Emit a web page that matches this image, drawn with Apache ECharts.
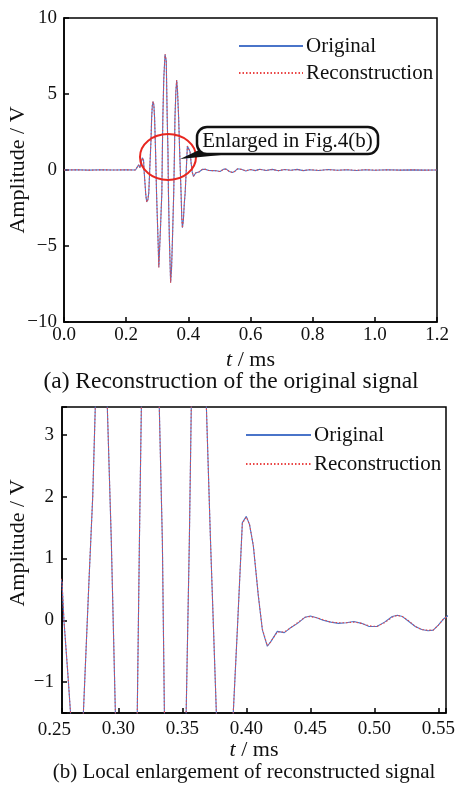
<!DOCTYPE html>
<html>
<head>
<meta charset="utf-8">
<title>Reconstruction of the original signal</title>
<script src="https://cdn.jsdelivr.net/npm/echarts@6/dist/echarts.min.js"></script>
<style>
  html, body { margin: 0; padding: 0; background: #fff; }
  #chart { width: 461px; height: 787px; }
</style>
</head>
<body>
<div id="chart"></div>
<script>
  // time axis (ms) shared by both traces
  const timeMs = [
    0.000, 0.040, 0.080, 0.120, 0.160, 0.200, 0.230,
    0.236, 0.240, 0.244, 0.248, 0.252, 0.256,
    0.2575, 0.2605, 0.263, 0.266, 0.268, 0.270, 0.2727,
    0.277, 0.280, 0.282, 0.284, 0.2865, 0.289, 0.2914,
    0.2945, 0.2977, 0.300, 0.303, 0.305, 0.307, 0.311,
    0.3148, 0.3165, 0.318, 0.321, 0.325, 0.329, 0.332,
    0.3344, 0.336, 0.339, 0.343, 0.346, 0.349, 0.353,
    0.3555, 0.357, 0.360, 0.3625, 0.365, 0.3688, 0.372,
    0.3766, 0.379, 0.381, 0.384, 0.387, 0.3898, 0.393,
    0.3969, 0.400, 0.4025, 0.4055, 0.4094, 0.4125, 0.4164,
    0.419, 0.4242, 0.4297, 0.434, 0.440, 0.446, 0.450,
    0.455, 0.460, 0.466, 0.472, 0.478, 0.484, 0.490,
    0.496, 0.502, 0.508, 0.514, 0.518, 0.522, 0.527,
    0.532, 0.537, 0.542, 0.546, 0.550, 0.554, 0.558,
    0.570, 0.585, 0.600, 0.615, 0.630, 0.650, 0.670,
    0.690, 0.710, 0.730, 0.750, 0.770, 0.790, 0.820,
    0.850, 0.880, 0.910, 0.940, 0.970, 1.000, 1.040,
    1.080, 1.120, 1.160, 1.200
  ];

  const originalV = [
    0, 0.02, -0.01, 0.02, 0, 0.01, 0,
    0.05, 0.35, 0.15, 0.45, 0.8, 0.62,
    0, -0.85, -1.6, -2.1, -2.2, -1.95, -1.5,
    0.6, 2.0, 3.45, 4.2, 4.5, 4.3, 3.45,
    1.3, -1.5, -3.0, -4.9, -6.4, -5.5, -3.5,
    -1.5, 1.3, 3.45, 6.0, 7.6, 7.2, 3.45,
    1.3, -1.5, -4.5, -7.4, -6.5, -4.5, -1.5,
    1.3, 3.45, 5.2, 5.9, 5.3, 3.45, 1.3,
    -1.5, -3.2, -3.8, -3.3, -2.2, -1.5, -0.15,
    1.58, 1.68, 1.55, 1.2, 0.39, -0.15, -0.42,
    -0.35, -0.18, -0.2, -0.13, -0.05, 0.05, 0.07,
    0.04, 0.0, -0.03, -0.05, -0.04, -0.02, -0.05,
    -0.1, -0.1, -0.03, 0.06, 0.08, 0.06, -0.02,
    -0.1, -0.15, -0.17, -0.16, -0.08, 0.02, 0.08,
    0.05, -0.06, 0.03, -0.04, 0.05, -0.03, 0.04,
    -0.05, 0.03, -0.02, 0.04, -0.04, 0.02, -0.03,
    0.03, -0.02, 0.02, -0.03, 0.02, -0.02, 0.02,
    -0.01, 0.01, -0.01, 0
  ];

  const reconV = [
    0, 0.01, -0.01, 0.01, 0, 0.01, 0,
    0.04, 0.33, 0.16, 0.44, 0.79, 0.63,
    0.01, -0.84, -1.6, -2.12, -2.22, -1.94, -1.5,
    0.61, 2.0, 3.44, 4.21, 4.52, 4.3, 3.46,
    1.31, -1.49, -3.01, -4.9, -6.42, -5.5, -3.49,
    -1.5, 1.31, 3.45, 6.02, 7.62, 7.19, 3.44,
    1.3, -1.49, -4.52, -7.42, -6.5, -4.49, -1.5,
    1.31, 3.46, 5.2, 5.92, 5.3, 3.44, 1.3,
    -1.5, -3.21, -3.82, -3.3, -2.2, -1.49, -0.14,
    1.57, 1.67, 1.55, 1.21, 0.4, -0.14, -0.41,
    -0.35, -0.19, -0.19, -0.13, -0.04, 0.05, 0.06,
    0.04, 0.01, -0.03, -0.04, -0.04, -0.03, -0.05,
    -0.09, -0.1, -0.04, 0.05, 0.08, 0.06, -0.01,
    -0.1, -0.15, -0.16, -0.16, -0.08, 0.02, 0.07,
    0.04, -0.05, 0.03, -0.04, 0.04, -0.03, 0.03,
    -0.04, 0.03, -0.02, 0.03, -0.03, 0.02, -0.02,
    0.02, -0.02, 0.02, -0.02, 0.02, -0.01, 0.01,
    -0.01, 0.01, -0.01, 0
  ];

  const seriesNames = ['Original', 'Reconstruction'];
  const xTicksTop = [0, 0.2, 0.4, 0.6, 0.8, 1.0, 1.2];
  const yTicksTop = [-10, -5, 0, 5, 10];

  const FONT = 'Liberation Serif';
  const BLUE = '#4a74c9';
  const RED = '#ea4646';

  function pairs(ys) {
    return timeMs.map((t, i) => [t, ys[i]]);
  }
  function minus(v) {
    return String(v).replace('-', '\u2212');
  }

  const axisCommon = {
    nameMoveOverlap: false,
    axisLine: { onZero: false, lineStyle: { color: '#000', width: 1.5 } },
    axisTick: { inside: true, length: 5, lineStyle: { color: '#000', width: 1.5 } },
    splitLine: { show: false }
  };
  const nameStyle = {
    fontFamily: FONT, fontSize: 22, color: '#111',
    rich: { i: { fontFamily: FONT, fontSize: 22, fontStyle: 'italic', color: '#111' } }
  };
  const legendCommon = {
    data: seriesNames, orient: 'vertical', padding: 0, selectedMode: false,
    itemWidth: 64, itemHeight: 14, itemStyle: { opacity: 0 },
    textStyle: { fontFamily: FONT, fontSize: 21, color: '#111', lineHeight: 22, padding: [0, 0, 0, -2] }
  };
  const origLine = { color: BLUE, width: 1.1 };
  const reconLine = { color: RED, width: 1.1, type: [1.5, 2] };

  let myChart = echarts.init(document.getElementById('chart'));
  let option = {
    backgroundColor: '#fff',
    animation: false,
    textStyle: { fontFamily: FONT },
    legend: [
      Object.assign({}, legendCommon, { left: 238, top: 35, itemGap: 5 }),
      Object.assign({}, legendCommon, { left: 245, top: 424, itemGap: 7, itemWidth: 65 })
    ],
    grid: [
      { left: 64, right: 24, top: 18, height: 304, outerBoundsMode: 'none',
        show: true, borderColor: '#000', borderWidth: 1.5 },
      { left: 62, right: 15, top: 407, height: 306, outerBoundsMode: 'none',
        show: true, borderColor: '#000', borderWidth: 1.5 }
    ],
    xAxis: [
      Object.assign({}, axisCommon, {
        type: 'value', gridIndex: 0, min: xTicksTop[0], max: xTicksTop[xTicksTop.length - 1], interval: 0.2,
        name: '{i|t} / ms', nameLocation: 'middle', nameGap: 27, nameTextStyle: nameStyle,
        axisLabel: { fontFamily: FONT, fontSize: 19, color: '#111', margin: 4,
          formatter: v => v.toFixed(1) }
      }),
      Object.assign({}, axisCommon, {
        type: 'value', gridIndex: 1, min: 0.256, max: 0.556, splitNumber: 6,
        name: '{i|t} / ms', nameLocation: 'middle', nameGap: 26, nameTextStyle: nameStyle,
        axisLabel: { fontFamily: FONT, fontSize: 19, color: '#111', margin: 7,
          formatter: v => Math.abs(v / 0.05 - Math.round(v / 0.05)) < 1e-6 ? v.toFixed(2) : '' }
      })
    ],
    yAxis: [
      Object.assign({}, axisCommon, {
        type: 'value', gridIndex: 0, min: yTicksTop[0], max: yTicksTop[yTicksTop.length - 1], interval: 5,
        name: 'Amplitude / V', nameLocation: 'middle', nameGap: 35, nameTextStyle: nameStyle,
        axisLabel: { fontFamily: FONT, fontSize: 19, color: '#111', margin: 7, formatter: minus }
      }),
      Object.assign({}, axisCommon, {
        type: 'value', gridIndex: 1, min: -1.5, max: 3.45,
        name: 'Amplitude / V', nameLocation: 'middle', nameGap: 33,
        nameTextStyle: Object.assign({}, nameStyle, { padding: [0, 0, 0, 34] }),
        axisLabel: { fontFamily: FONT, fontSize: 19, color: '#111', margin: 8,
          formatter: v => Number.isInteger(v) ? minus(v) : '' }
      })
    ],
    series: [
      { name: 'Original', type: 'line', xAxisIndex: 0, yAxisIndex: 0, symbol: 'none',
        lineStyle: origLine, itemStyle: { color: BLUE }, data: pairs(originalV) },
      { name: 'Reconstruction', type: 'line', xAxisIndex: 0, yAxisIndex: 0, symbol: 'none',
        lineStyle: reconLine, itemStyle: { color: RED }, data: pairs(reconV) },
      { name: 'Original', type: 'line', xAxisIndex: 1, yAxisIndex: 1, symbol: 'none',
        lineStyle: origLine, itemStyle: { color: BLUE }, data: pairs(originalV) },
      { name: 'Reconstruction', type: 'line', xAxisIndex: 1, yAxisIndex: 1, symbol: 'none',
        lineStyle: reconLine, itemStyle: { color: RED }, data: pairs(reconV) }
    ]
  };
  myChart.setOption(option);

  // annotation, captions and the 0.25 label that sits just left of the clipped axis
  let x025 = myChart.convertToPixel({ xAxisIndex: 1 }, 0.25);
  myChart.setOption({
    graphic: [
      { type: 'ellipse', shape: { cx: 168, cy: 157, rx: 28, ry: 23 },
        style: { fill: 'none', stroke: '#e8261f', lineWidth: 2 }, z: 10 },
      { type: 'polygon', shape: { points: [[180, 159], [199, 150], [262, 151]] },
        style: { fill: '#111' }, z: 10 },
      { type: 'rect', shape: { x: 197, y: 127, width: 181, height: 27, r: 10 },
        style: { fill: '#fff', stroke: '#111', lineWidth: 2.5 }, z: 11 },
      { type: 'text', x: 287.5, y: 141, z: 12,
        style: { text: 'Enlarged in Fig.4(b)', fontFamily: FONT, fontSize: 21, fill: '#111',
          align: 'center', verticalAlign: 'middle' } },
      { type: 'text', x: x025, y: 730,
        style: { text: '0.25', fontFamily: FONT, fontSize: 19, fill: '#111',
          align: 'center', verticalAlign: 'middle' } },
      { type: 'text', x: 231, y: 382,
        style: { text: '(a) Reconstruction of the original signal', fontFamily: FONT, fontSize: 23.5,
          fill: '#111', align: 'center', verticalAlign: 'middle' } },
      { type: 'text', x: 244, y: 772,
        style: { text: '(b) Local enlargement of reconstructed signal', fontFamily: FONT, fontSize: 21,
          fill: '#111', align: 'center', verticalAlign: 'middle' } }
    ]
  });
</script>
</body>
</html>
